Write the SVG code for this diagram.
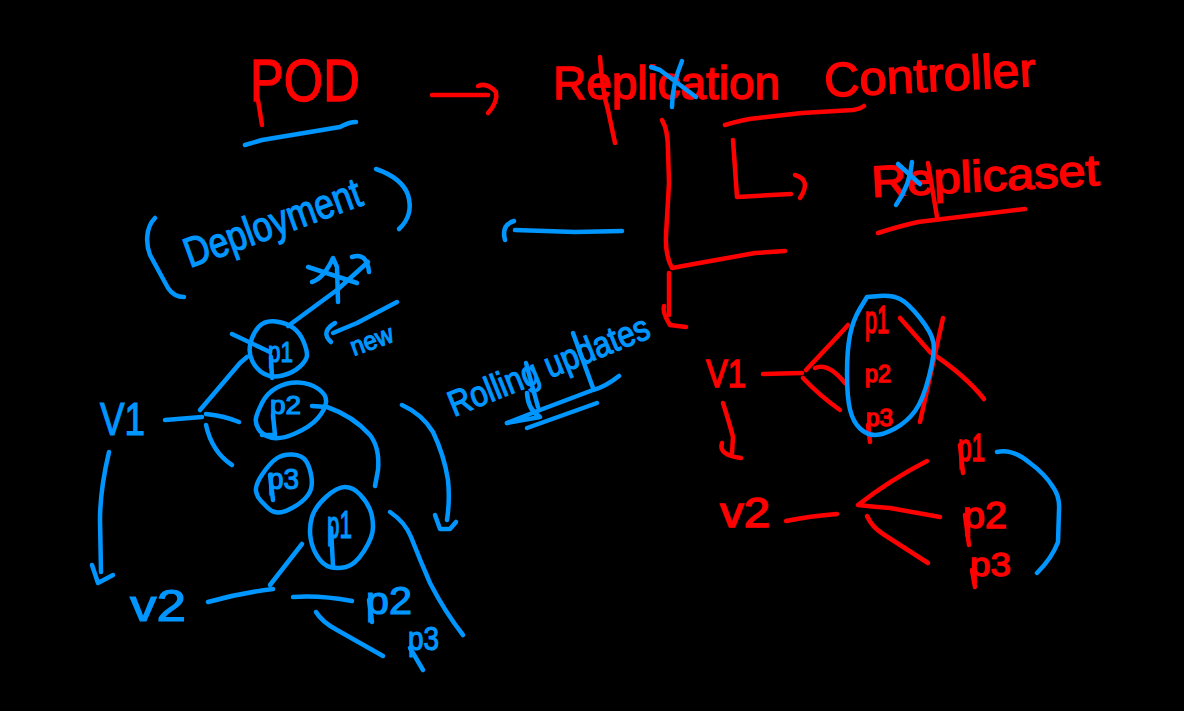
<svg xmlns="http://www.w3.org/2000/svg" width="1184" height="711" viewBox="0 0 1184 711">
<style>
.r{fill:none;stroke:#ff0000;stroke-width:4.5;stroke-linecap:round;stroke-linejoin:round}
.b{fill:none;stroke:#0096ff;stroke-width:4.5;stroke-linecap:round;stroke-linejoin:round}
.tr{fill:#ff0000;stroke:#ff0000;stroke-width:1.4;font-family:"Liberation Sans",Arial,sans-serif}
.tb{fill:#0096ff;stroke:#0096ff;stroke-width:1.2;font-family:"Liberation Sans",Arial,sans-serif}
</style>
<rect width="1184" height="711" fill="#000000"/>
<g id="red-labels">
<text class="tr" x="250" y="101" font-size="60" textLength="110" lengthAdjust="spacingAndGlyphs">POD</text>
<text class="tr" x="553" y="99" font-size="46" textLength="227" lengthAdjust="spacingAndGlyphs">Replication</text>
<text class="tr" x="825" y="97" font-size="48" textLength="212" lengthAdjust="spacingAndGlyphs" transform="rotate(-3 825 97)">Controller</text>
<text class="tr" x="872" y="197" font-size="44" textLength="228" lengthAdjust="spacingAndGlyphs" transform="rotate(-3 872 197)">Replicaset</text>
<text class="tr" x="706" y="387" font-size="38" textLength="40" lengthAdjust="spacingAndGlyphs">V1</text>
<text class="tr" x="865" y="333" font-size="38" textLength="24" lengthAdjust="spacingAndGlyphs">p1</text>
<text class="tr" x="865" y="382" font-size="24" textLength="26" lengthAdjust="spacingAndGlyphs">p2</text>
<text class="tr" x="866" y="426" font-size="24" textLength="27" lengthAdjust="spacingAndGlyphs">p3</text>
<text class="tr" x="720" y="527" font-size="42" textLength="50" lengthAdjust="spacingAndGlyphs">v2</text>
<text class="tr" x="958" y="461" font-size="38" textLength="27" lengthAdjust="spacingAndGlyphs">p1</text>
<text class="tr" x="963" y="528" font-size="36" textLength="44" lengthAdjust="spacingAndGlyphs">p2</text>
<text class="tr" x="970" y="576" font-size="34" textLength="41" lengthAdjust="spacingAndGlyphs">p3</text>
</g>
<g id="blue-labels">
<text class="tb" x="190" y="268" font-size="42" textLength="186" lengthAdjust="spacingAndGlyphs" transform="rotate(-20 190 268)">Deployment</text>
<text class="tb" x="354" y="356" font-size="26" textLength="44" lengthAdjust="spacingAndGlyphs" transform="rotate(-20 354 356)">new</text>
<text class="tb" x="454" y="417" font-size="36" textLength="214" lengthAdjust="spacingAndGlyphs" transform="rotate(-22 454 417)">Rolling updates</text>
<text class="tb" x="100" y="435" font-size="46" textLength="45" lengthAdjust="spacingAndGlyphs">V1</text>
<text class="tb" x="130" y="621" font-size="44" textLength="56" lengthAdjust="spacingAndGlyphs">v2</text>
<text class="tb" x="268" y="362" font-size="30" textLength="25" lengthAdjust="spacingAndGlyphs">p1</text>
<text class="tb" x="270" y="414" font-size="26" textLength="31" lengthAdjust="spacingAndGlyphs">p2</text>
<text class="tb" x="268" y="489" font-size="30" textLength="31" lengthAdjust="spacingAndGlyphs">p3</text>
<text class="tb" x="327" y="538" font-size="38" textLength="25" lengthAdjust="spacingAndGlyphs">p1</text>
<text class="tb" x="366" y="614" font-size="38" textLength="46" lengthAdjust="spacingAndGlyphs">p2</text>
<text class="tb" x="408" y="650" font-size="34" textLength="31" lengthAdjust="spacingAndGlyphs">p3</text>
</g>
<g id="connectors">
<path class="b" d="M245,145 L262,140 L340,127 Q349,122 356,122"/>
<path class="r" d="M258,100 L262,125"/>
<path class="r" d="M432,95 L488,95"/>
<path class="r" d="M478,86 Q487,82 496,92 Q498,102 488,113"/>
<path class="r" d="M600,57 Q602,90 608,110 L615,143"/>
<path class="r" d="M725,125 Q745,119 758,118 L802,113 L853,110 Q860,109 864,106"/>
<path class="r" d="M662,120 Q668,130 668,150 L669,183 L666,235 Q665,255 672,268 L705,262 L755,253 L785,251"/>
<path class="r" d="M669,273 L669,315"/>
<path class="r" d="M664,306 Q662,312 670,325 L686,327"/>
<path class="r" d="M733,140 L737,197 L791,194"/>
<path class="r" d="M795,175 Q812,180 800,198"/>
<path class="r" d="M928,163 L937,217"/>
<path class="r" d="M878,233 Q900,226 918,222 L1025,209"/>
<path class="b" d="M622,231 L575,232 L515,230"/>
<path class="b" d="M514,221 Q501,225 505,240"/>
<path class="b" d="M155,218 C145,228 146,245 150,255 L168,288 Q174,297 184,297"/>
<path class="b" d="M376,169 Q402,178 408,195 Q414,215 399,229"/>
<path class="b" d="M288,326 L337,290 L368,262"/>
<path class="b" d="M352,257 Q367,252 369,272"/>
<path class="b" d="M308,267 L357,283"/>
<path class="b" d="M338,302 L337,267 L333,258 Q324,278 312,282"/>
<path class="b" d="M397,302 L357,323 L333,333"/>
<path class="b" d="M335,323 Q320,332 331,342"/>
<path class="b" d="M165,420 L202,417"/>
<path class="b" d="M200,410 L240,363 L247,357"/>
<path class="b" d="M206,414 Q225,416 239,422"/>
<path class="b" d="M206,425 Q212,452 232,465"/>
<path class="b" d="M232,334 L270,352"/>
<path class="b" d="M271,357 L272,378"/>
<path class="b" d="M273,415 L275,435 L262,435"/>
<path class="b" d="M312,406 L327,407 Q353,416 370,435 Q380,448 378,470 L375,486"/>
<path class="b" d="M390,512 Q405,522 411,537 Q420,560 430,583 Q445,612 463,635"/>
<path class="b" d="M402,405 Q422,414 433,432 Q444,455 448,480 Q450,500 447,520"/>
<path class="b" d="M435,515 L440,529 L450,529 L456,522"/>
<path class="b" d="M109,452 Q100,490 100,520 L101,572"/>
<path class="b" d="M92,565 L98,583 L113,575"/>
<path class="b" d="M208,602 Q240,593 273,589"/>
<path class="b" d="M270,585 L302,544"/>
<path class="b" d="M293,597 Q320,595 352,601"/>
<path class="b" d="M316,612 Q322,622 337,630 L383,656"/>
<path class="b" d="M507,423 L540,410 L593,390 Q605,387 619,376"/>
<path class="b" d="M527,428 L597,403"/>
<path class="b" d="M507,423 L540,417 Q528,410 527,393"/>
<path class="b" d="M526,363 L538,407"/>
<path class="b" d="M573,333 L593,388"/>
<path class="b" d="M270,475 L273,500"/>
<path class="b" d="M331,528 L333,566"/>
<path class="b" d="M369,600 L372,622"/>
<path class="b" d="M410,648 L423,670"/>
<path class="r" d="M763,374 L802,373"/>
<path class="r" d="M806,370 L837,337 L848,325"/>
<path class="r" d="M815,368 Q828,362 845,383"/>
<path class="r" d="M803,378 Q820,396 840,410"/>
<path class="r" d="M900,318 Q915,335 930,352 Q965,375 984,399"/>
<path class="r" d="M943,318 L920,422"/>
<path class="r" d="M723,403 Q730,425 733,437 L732,453"/>
<path class="r" d="M722,443 Q718,455 741,458"/>
<path class="r" d="M786,521 Q810,516 837,514"/>
<path class="r" d="M927,461 Q890,480 858,505 Q875,507 890,508 L940,517"/>
<path class="r" d="M867,516 Q872,527 883,534 L928,563"/>
<path class="r" d="M868,425 L870,442"/>
<path class="r" d="M960,445 L963,473"/>
<path class="r" d="M965,515 L969,545"/>
<path class="r" d="M972,570 L975,587"/>
<path class="b" d="M997,452 Q1012,448 1030,463 Q1045,474 1053,487 Q1060,497 1059,510 L1058,542 Q1052,558 1037,573"/>
</g>
<g id="cross-outs">
<path class="b" d="M651,67 L660,70 L696,97"/>
<path class="b" d="M682,61 Q672,85 672,107"/>
<path class="b" d="M898,164 L920,184"/>
<path class="b" d="M912,162 Q910,185 896,205"/>
</g>
<g id="pod-circles">
<path id="circle-left-1" class="b" d="M276,321.5 Q265,320 259,326.5 Q253,333 250.5,343 Q248,353 252.5,361.5 Q257,370 264.5,374 Q272,378 282.5,375.5 Q293,373 300,366.5 Q307,360 307,355 Q307,350 303.5,341.5 Q300,333 293.5,328 Q287,323 276,321.5Z"/>
<path id="circle-left-2" class="b" d="M277,387.5 Q287,382 298.5,382.5 Q310,383 318.5,389 Q327,395 326,402.5 Q325,410 317.5,418.5 Q310,427 295,433.5 Q280,440 271,437.5 Q262,435 258.5,429 Q255,423 256,418 Q257,413 262,403 Q267,393 277,387.5Z"/>
<path id="circle-left-3" class="b" d="M276.5,458.5 Q283,454 292.5,454.5 Q302,455 306,461 Q310,467 311.5,477.5 Q313,488 308,495 Q303,502 293,507.5 Q283,513 277.5,512.5 Q272,512 268.5,508.5 Q265,505 261,501 Q257,497 256,491 Q255,485 262.5,474 Q270,463 276.5,458.5Z"/>
<path id="circle-left-4" class="b" d="M326,497 Q337,487 345,487 Q353,487 360,494.5 Q367,502 370,509.5 Q373,517 373,527 Q373,537 364,551 Q355,565 346,567 Q337,569 330,567 Q323,565 317.5,556.5 Q312,548 310.5,537.5 Q309,527 312,517 Q315,507 326,497Z"/>
<path id="circle-right" class="b" d="M867,297 L879.5,296 Q892,295 900,299 Q908,303 920,318 Q932,333 933.5,343 Q935,353 929,376.5 Q923,400 915,411 Q907,422 895,428.5 Q883,435 875,435 Q867,435 860,428.5 Q853,422 850,409.5 Q847,397 847,373.5 Q847,350 850,335 Q853,320 860,308.5 L867,297"/>
</g>
</svg>
